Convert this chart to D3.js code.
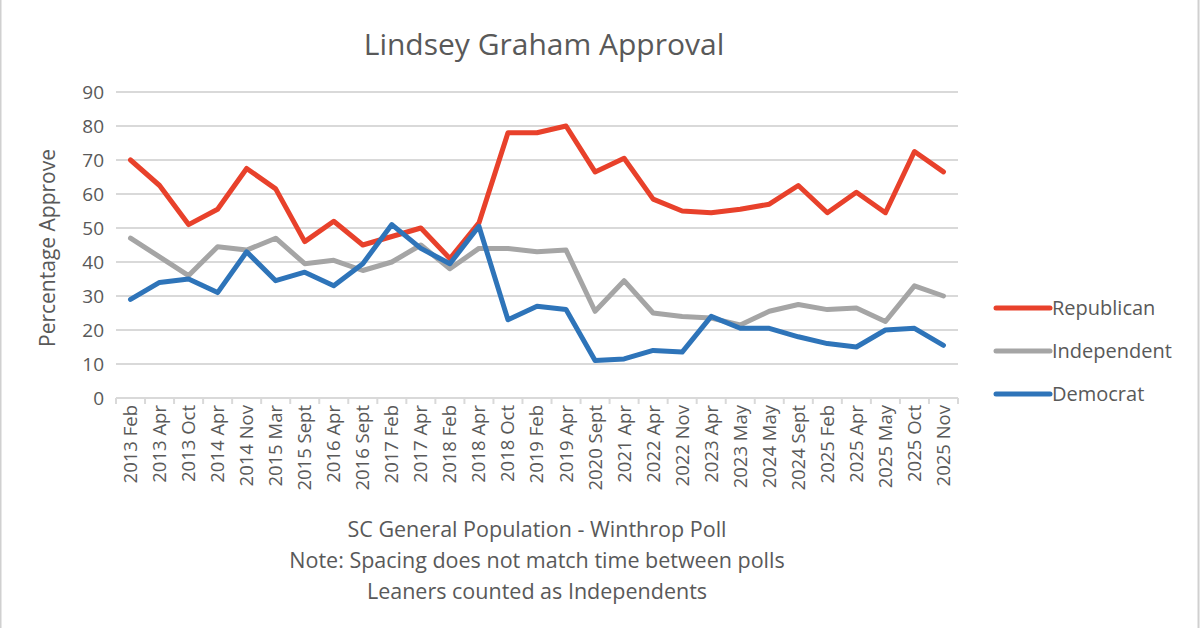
<!DOCTYPE html>
<html>
<head>
<meta charset="utf-8">
<script src="https://cdn.jsdelivr.net/npm/d3@7"></script>
<style>
  body { margin: 0; background: #fff; }
  text { font-family: "Open Sans", "Noto Sans", sans-serif; fill: #595959; }
</style>
</head>
<body>
<div id="chart-area"></div>
<script>

var width = 1200,
    height = 628;

// poll dates (categories)
var polls = ["2013 Feb", "2013 Apr", "2013 Oct", "2014 Apr", "2014 Nov", "2015 Mar",
  "2015 Sept", "2016 Apr", "2016 Sept", "2017 Feb", "2017 Apr", "2018 Feb", "2018 Apr",
  "2018 Oct", "2019 Feb", "2019 Apr", "2020 Sept", "2021 Apr", "2022 Apr", "2022 Nov",
  "2023 Apr", "2023 May", "2024 May", "2024 Sept", "2025 Feb", "2025 Apr", "2025 May",
  "2025 Oct", "2025 Nov"];

var republican = [70, 62.5, 51, 55.5, 67.5, 61.5, 46, 52, 45, 47.5, 50, 41, 51.5,
  78, 78, 80, 66.5, 70.5, 58.5, 55, 54.5, 55.5, 57, 62.5, 54.5, 60.5, 54.5, 72.5, 66.5];

var independent = [47, 41.5, 36, 44.5, 43.5, 47, 39.5, 40.5, 37.5, 40, 45, 38, 44,
  44, 43, 43.5, 25.5, 34.5, 25, 24, 23.5, 21.5, 25.5, 27.5, 26, 26.5, 22.5, 33, 30];

var democrat = [29, 34, 35, 31, 43, 34.5, 37, 33, 39.5, 51, 44, 39.5, 50.5,
  23, 27, 26, 11, 11.5, 14, 13.5, 24, 20.5, 20.5, 18, 16, 15, 20, 20.5, 15.5];

var yTicks = [0, 10, 20, 30, 40, 50, 60, 70, 80, 90];

var series = [
  {name: "Republican", values: republican, color: "#e8412b"},
  {name: "Independent", values: independent, color: "#a5a5a5"},
  {name: "Democrat", values: democrat, color: "#2e74b9"}
];

var svg = d3.select("#chart-area").append("svg")
    .attr("width", width)
    .attr("height", height);

// outer frame
svg.append("rect")
    .attr("x", 0.5).attr("y", -2)
    .attr("width", width - 2).attr("height", height + 4)
    .attr("fill", "none")
    .attr("stroke", "#d0d0d0")
    .attr("stroke-width", 2);

var plot = {left: 116, right: 958, top: 92, bottom: 398};

var x = d3.scaleBand()
    .domain(polls)
    .range([plot.left, plot.right]);

var y = d3.scaleLinear()
    .domain([0, 90])
    .range([plot.bottom, plot.top]);

// gridlines
svg.append("g")
  .selectAll("line")
  .data(yTicks)
  .enter()
  .append("line")
    .attr("x1", plot.left)
    .attr("x2", plot.right)
    .attr("y1", d => y(d))
    .attr("y2", d => y(d))
    .attr("stroke", "#d9d9d9")
    .attr("stroke-width", 2);

// y tick labels
svg.append("g")
  .selectAll("text")
  .data(yTicks)
  .enter()
  .append("text")
    .attr("x", 104)
    .attr("y", d => y(d))
    .attr("dy", "0.35em")
    .attr("text-anchor", "end")
    .style("font-size", "19px")
    .text(d => d);

// x axis ticks (category boundaries)
var bounds = polls.map(d => x(d)).concat([plot.right]);
svg.append("g")
  .selectAll("line")
  .data(bounds)
  .enter()
  .append("line")
    .attr("x1", d => d)
    .attr("x2", d => d)
    .attr("y1", plot.bottom)
    .attr("y2", plot.bottom + 6)
    .attr("stroke", "#d9d9d9")
    .attr("stroke-width", 2);

// x tick labels, rotated
svg.append("g")
  .selectAll("text")
  .data(polls)
  .enter()
  .append("text")
    .attr("transform", d => "translate(" + (x(d) + x.bandwidth() / 2) + "," + (plot.bottom + 7) + ") rotate(-90)")
    .attr("dy", "0.35em")
    .attr("text-anchor", "end")
    .style("font-size", "18.5px")
    .text(d => d);

// lines
var line = d3.line()
    .x((d, i) => x(polls[i]) + x.bandwidth() / 2)
    .y(d => y(d));

svg.append("g")
  .selectAll("path")
  .data(series)
  .enter()
  .append("path")
    .attr("d", d => line(d.values))
    .attr("fill", "none")
    .attr("stroke", d => d.color)
    .attr("stroke-width", 5)
    .attr("stroke-linejoin", "round")
    .attr("stroke-linecap", "round");

// title
svg.append("text")
    .attr("x", 544)
    .attr("y", 55)
    .attr("text-anchor", "middle")
    .style("font-size", "30px")
    .text("Lindsey Graham Approval");

// y axis title
svg.append("text")
    .attr("transform", "translate(55,248) rotate(-90)")
    .attr("text-anchor", "middle")
    .style("font-size", "21px")
    .text("Percentage Approve");

// bottom notes
var notes = ["SC General Population - Winthrop Poll",
  "Note: Spacing does not match time between polls",
  "Leaners counted as Independents"];
svg.append("g")
  .selectAll("text")
  .data(notes)
  .enter()
  .append("text")
    .attr("x", 537)
    .attr("y", (d, i) => 537 + i * 31)
    .attr("text-anchor", "middle")
    .style("font-size", "21.5px")
    .text(d => d);

// legend
var legend = svg.append("g")
  .selectAll("g")
  .data(series)
  .enter()
  .append("g")
    .attr("transform", (d, i) => "translate(996," + (308 + i * 43) + ")");

legend.append("line")
    .attr("x1", 0).attr("x2", 54)
    .attr("stroke", d => d.color)
    .attr("stroke-width", 5)
    .attr("stroke-linecap", "round");

legend.append("text")
    .attr("x", 56)
    .attr("dy", "0.35em")
    .style("font-size", "20px")
    .text(d => d.name);

</script>
</body>
</html>
